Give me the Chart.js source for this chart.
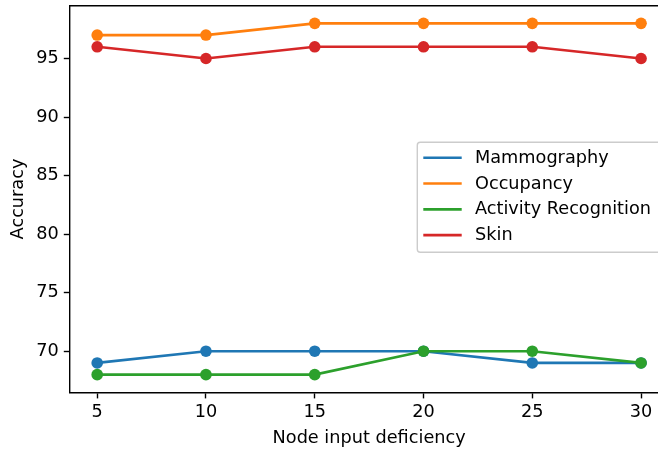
<!DOCTYPE html>
<html>
<head>
<meta charset="utf-8">
<script src="https://cdn.jsdelivr.net/npm/chart.js@4.4.1/dist/chart.umd.min.js"></script>
<style>
  html, body { margin: 0; padding: 0; background: #ffffff; overflow: hidden; }
  #wrap { width: 700px; height: 452px; }
</style>
</head>
<body>
<div id="wrap"><canvas id="c" width="700" height="452"></canvas></div>
<script>
const categories = [5, 10, 15, 20, 25, 30];
const mammography = [69, 70, 70, 70, 69, 69];
const occupancy = [97, 97, 98, 98, 98, 98];
const activityRecognition = [68, 68, 68, 70, 70, 69];
const skin = [96, 95, 96, 96, 96, 95];
const seriesNames = ['Mammography', 'Occupancy', 'Activity Recognition', 'Skin'];
const xTicks = [5, 10, 15, 20, 25, 30];
const yTicks = [70, 75, 80, 85, 90, 95];

const colors = ['#1f77b4', '#ff7f0e', '#2ca02c', '#d62728'];
const FONT = 'DejaVu Sans';
const FS = 17.7;

function pts(vals) { return categories.map((x, i) => ({ x: x, y: vals[i] })); }
const allSeries = [mammography, occupancy, activityRecognition, skin];

const datasets = allSeries.map((vals, i) => ({
  label: seriesNames[i],
  data: pts(vals),
  borderColor: colors[i],
  backgroundColor: colors[i],
  pointBackgroundColor: colors[i],
  pointBorderColor: colors[i],
  borderWidth: 2.65,
  pointRadius: 5.8,
  pointHoverRadius: 5.8,
  pointBorderWidth: 0,
  tension: 0,
  fill: false,
  order: allSeries.length - i,
  clip: false
}));

function zeroPad(scale) {
  scale.paddingTop = 0; scale.paddingBottom = 0;
  scale.paddingLeft = 0; scale.paddingRight = 0;
}

const framePlugin = {
  id: 'frame',
  afterDraw(chart) {
    const { ctx, chartArea: a } = chart;
    ctx.save();
    ctx.strokeStyle = '#000000';
    ctx.lineWidth = 1.4;
    ctx.beginPath();
    ctx.moveTo(a.left - 0.7, a.top);
    ctx.lineTo(a.right + 0.7, a.top);
    ctx.lineTo(a.right, a.bottom);
    ctx.stroke();
    // legend
    const lx = 417.3, ly = 142.3, lw = 245, lh = 110, r = 3;
    ctx.beginPath();
    ctx.moveTo(lx + r, ly);
    ctx.lineTo(lx + lw - r, ly);
    ctx.arcTo(lx + lw, ly, lx + lw, ly + r, r);
    ctx.lineTo(lx + lw, ly + lh - r);
    ctx.arcTo(lx + lw, ly + lh, lx + lw - r, ly + lh, r);
    ctx.lineTo(lx + r, ly + lh);
    ctx.arcTo(lx, ly + lh, lx, ly + lh - r, r);
    ctx.lineTo(lx, ly + r);
    ctx.arcTo(lx, ly, lx + r, ly, r);
    ctx.closePath();
    ctx.fillStyle = 'rgba(255,255,255,0.8)';
    ctx.fill();
    ctx.strokeStyle = '#cccccc';
    ctx.lineWidth = 1.4;
    ctx.stroke();
    ctx.font = FS + 'px "' + FONT + '"';
    ctx.textBaseline = 'middle';
    ctx.textAlign = 'left';
    chart.data.datasets.forEach((ds, i) => {
      const y = 157.7 + i * 25.8;
      ctx.beginPath();
      ctx.moveTo(423.3, y);
      ctx.lineTo(461.7, y);
      ctx.strokeStyle = ds.borderColor;
      ctx.lineWidth = 2.65;
      ctx.stroke();
      ctx.fillStyle = '#000000';
      ctx.fillText(ds.label, 475, y + 0.5);
    });
    ctx.restore();
  }
};

new Chart(document.getElementById('c'), {
  type: 'line',
  data: { datasets: datasets },
  options: {
    responsive: false,
    animation: false,
    events: [],
    layout: { padding: { left: 0, top: 3.7, right: 31.75, bottom: 0 } },
    plugins: { legend: { display: false }, tooltip: { enabled: false } },
    scales: {
      x: {
        type: 'linear',
        min: 3.75,
        max: 31.25,
        afterBuildTicks(scale) { scale.ticks = xTicks.map(v => ({ value: v })); },
        afterFit(scale) { scale.height = 59.8; zeroPad(scale); },
        grid: { drawOnChartArea: false, drawTicks: true, tickLength: 6.2, tickWidth: 1.4, tickColor: '#000000' },
        border: { display: true, color: '#000000', width: 1.4 },
        ticks: { color: '#000000', padding: 3, font: { family: FONT, size: FS }, maxRotation: 0, callback: v => String(v) },
        title: { display: true, text: 'Node input deficiency', color: '#000000', font: { family: FONT, size: FS }, padding: { top: 0, bottom: 3.4 } }
      },
      y: {
        type: 'linear',
        min: 66.5,
        max: 99.5,
        afterBuildTicks(scale) { scale.ticks = yTicks.map(v => ({ value: v })); },
        afterFit(scale) { scale.width = 70; zeroPad(scale); },
        grid: { drawOnChartArea: false, drawTicks: true, tickLength: 6.2, tickWidth: 1.4, tickColor: '#000000' },
        border: { display: true, color: '#000000', width: 1.4 },
        ticks: { color: '#000000', padding: 5, font: { family: FONT, size: FS }, callback: v => String(v) },
        title: { display: true, text: 'Accuracy', color: '#000000', font: { family: FONT, size: FS }, padding: { top: 7.4, bottom: 0 } }
      }
    }
  },
  plugins: [framePlugin]
});
</script>
</body>
</html>
